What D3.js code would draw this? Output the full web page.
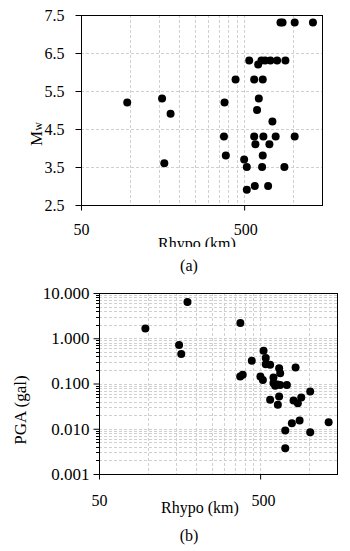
<!DOCTYPE html>
<html>
<head>
<meta charset="utf-8">
<script src="https://cdn.jsdelivr.net/npm/d3@7"></script>
<style>
  body { margin: 0; background: #fff; }
  svg text { font-family: "Liberation Serif", "Times New Roman", serif !important; fill: #000; }
</style>
</head>
<body>
<svg id="chart"></svg>
<script>
// Panel (a): hypocentral distance (km) vs moment magnitude
const rhypoA = [96, 157, 177, 162, 379, 376, 386, 443, 500, 519, 519, 537, 576, 576, 586, 581,
    600, 609, 615, 638, 644, 650, 650, 656, 672, 701, 714, 724, 745, 780, 796, 835, 860, 882,
    895, 1020, 1020, 1320];
const mwA = [5.2, 5.3, 4.9, 3.6, 5.2, 4.3, 3.8, 5.8, 3.7, 3.5, 2.9, 6.3, 5.8, 4.3, 4.1, 3.0,
    5.0, 6.2, 5.3, 6.3, 3.5, 5.8, 3.8, 4.3, 6.3, 3.0, 4.1, 6.3, 4.7, 4.3, 6.3, 7.3, 7.3, 3.5,
    6.3, 7.3, 4.3, 7.3];

// Panel (b): hypocentral distance (km) vs PGA (gal)
const rhypoB = [97, 177, 157, 162, 377, 376, 390, 444, 502, 520, 525, 542, 542, 577, 577, 605,
    605, 620, 641, 644, 656, 656, 666, 666, 716, 716, 733, 787, 806, 830, 857, 879, 900, 1023,
    1023, 1331];
const pgaB = [1.65, 6.3, 0.71, 0.45, 2.17, 0.143, 0.156, 0.318, 0.143, 0.12, 0.53, 0.364, 0.268,
    0.259, 0.0435, 0.136, 0.102, 0.089, 0.095, 0.0337, 0.0515, 0.218, 0.168, 0.093, 0.0091,
    0.0037, 0.093, 0.0132, 0.042, 0.226, 0.0367, 0.0152, 0.049, 0.0665, 0.0084, 0.0139];

// axis settings
const xDomain = [50, 1500];
const xTickLabels = [50, 500];
const xGridValues = [100, 150, 200, 250, 300, 350, 400, 450, 500, 1000];
const mwTicks = [2.5, 3.5, 4.5, 5.5, 6.5, 7.5];
const pgaTicks = [0.001, 0.01, 0.1, 1, 10];

const serif = '"Liberation Serif", "Times New Roman", serif';

const svg = d3.select('#chart').attr('width', 350).attr('height', 551);
svg.append('rect').attr('width', 350).attr('height', 551).attr('fill', '#fff');

const gridColor = '#d0d0d0';

function drawPanel(cfg) {
    const w = cfg.right - cfg.left;
    const h = cfg.bottom - cfg.top;
    const g = svg.append('g').attr('transform', `translate(${cfg.left},${cfg.top})`);

    const x = d3.scaleLog().domain(xDomain).range([0, w]);
    const y = cfg.yScale.range([h, 0]);

    // gridlines
    g.append('g').selectAll('line').data(xGridValues).join('line')
        .attr('x1', d => Math.round(x(d)) + 0.5).attr('x2', d => Math.round(x(d)) + 0.5)
        .attr('y1', 0).attr('y2', h)
        .attr('stroke', gridColor).attr('stroke-dasharray', '3,2');
    g.append('g').selectAll('line').data(cfg.yGrid).join('line')
        .attr('x1', 0).attr('x2', w)
        .attr('y1', d => Math.round(y(d)) + 0.5).attr('y2', d => Math.round(y(d)) + 0.5)
        .attr('stroke', gridColor).attr('stroke-dasharray', '3,2');

    // plot border
    g.append('rect').attr('x', 0.5).attr('y', 0.5).attr('width', w).attr('height', h)
        .attr('fill', 'none').attr('stroke', '#000');

    // y axis ticks and labels
    const yAxis = d3.axisLeft(y).tickValues(cfg.yTicks).tickSize(6).tickFormat(cfg.yFormat);
    const yAxisG = g.append('g').attr('transform', 'translate(0.5,0)').call(yAxis)
        .attr('font-family', serif);
    yAxisG.select('.domain').remove();
    yAxisG.selectAll('text').attr('font-size', cfg.yFont).attr('dx', cfg.yLabelDx);
    if (cfg.yMinor) {
        g.append('g').selectAll('line').data(cfg.yMinor).join('line')
            .attr('x1', -3).attr('x2', 0)
            .attr('y1', d => Math.round(y(d)) + 0.5).attr('y2', d => Math.round(y(d)) + 0.5)
            .attr('stroke', '#000');
    }

    // x axis ticks at 50 and 500
    const xAxis = d3.axisBottom(x).tickValues(xTickLabels).tickSize(5).tickFormat(d3.format('d'));
    const xAxisG = g.append('g').attr('transform', `translate(0,${h + 0.5})`).call(xAxis)
        .attr('font-family', serif);
    xAxisG.select('.domain').remove();
    xAxisG.selectAll('text').attr('font-size', 16).attr('dy', null).attr('y', cfg.xLabelY)
        .attr('dx', (d, i) => i === 1 ? cfg.x500Dx : 0);

    // points
    g.append('g').selectAll('circle').data(cfg.xs).join('circle')
        .attr('cx', d => x(d))
        .attr('cy', (d, i) => y(cfg.ys[i]))
        .attr('r', 4).attr('fill', '#000');

    return g;
}

// panel (a)
drawPanel({
    left: 81, right: 322, top: 15, bottom: 205,
    yScale: d3.scaleLinear().domain([2.5, 7.5]),
    yTicks: mwTicks, yGrid: mwTicks.slice(1, -1), yFormat: d3.format('.1f'),
    yFont: 16, yLabelDx: -8, xLabelY: 29, x500Dx: 1,
    xs: rhypoA, ys: mwA
});

// panel (b)
const pgaMinor = [];
pgaTicks.slice(0, -1).forEach(d => { for (let k = 2; k <= 9; k++) pgaMinor.push(d * k); });
drawPanel({
    left: 99, right: 337, top: 293, bottom: 474,
    yScale: d3.scaleLog().domain([0.001, 10]),
    yTicks: pgaTicks, yGrid: pgaTicks.slice(1, -1).concat(pgaMinor), yMinor: pgaMinor,
    yFormat: d3.format('.3f'), yFont: 17, yLabelDx: -1, xLabelY: 31, x500Dx: 3,
    xs: rhypoB, ys: pgaB
});

// axis titles
const clip = svg.append('clipPath').attr('id', 'clipA');
clip.append('rect').attr('x', 0).attr('y', 0).attr('width', 350).attr('height', 247);
svg.append('text').attr('x', 197).attr('y', 249).attr('text-anchor', 'middle')
    .attr('font-size', 16).attr('clip-path', 'url(#clipA)').text('Rhypo (km)');
svg.append('text').attr('x', 189).attr('y', 271).attr('text-anchor', 'middle')
    .attr('font-size', 16).text('(a)');

const mw = svg.append('text').attr('transform', 'translate(42,134) rotate(-90)')
    .attr('text-anchor', 'middle').attr('font-size', 17);
mw.append('tspan').text('M');
mw.append('tspan').attr('font-size', 12).text('w');

svg.append('text').attr('x', 200).attr('y', 513).attr('text-anchor', 'middle')
    .attr('font-size', 16).text('Rhypo (km)');
svg.append('text').attr('x', 189).attr('y', 541).attr('text-anchor', 'middle')
    .attr('font-size', 16).text('(b)');
svg.append('text').attr('transform', 'translate(26,410) rotate(-90)')
    .attr('text-anchor', 'middle').attr('font-size', 17).text('PGA (gal)');
</script>
</body>
</html>
